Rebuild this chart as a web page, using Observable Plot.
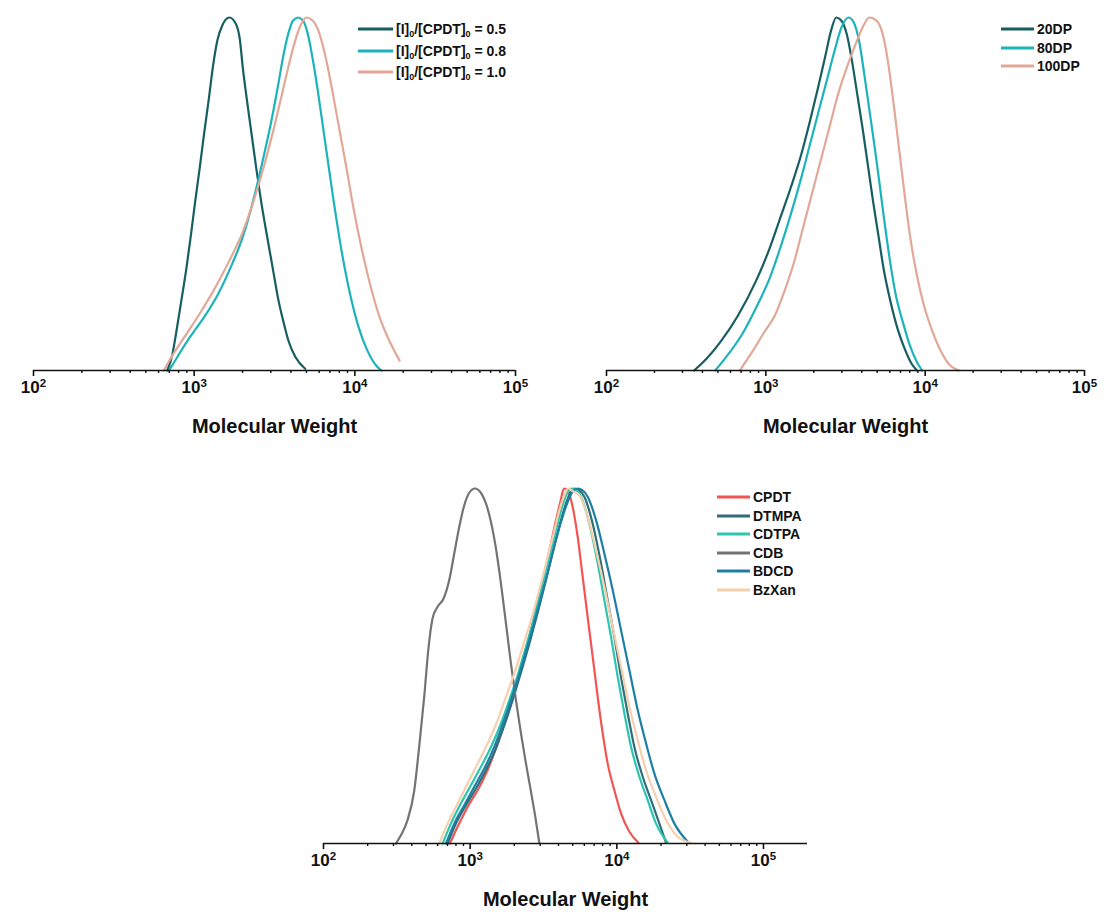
<!DOCTYPE html>
<html>
<head>
<meta charset="utf-8">
<script src="https://cdn.jsdelivr.net/npm/d3@7"></script>
<script src="https://cdn.jsdelivr.net/npm/@observablehq/plot@0.6"></script>
<style>
  body { margin: 0; background: #ffffff; }
  #wrap { position: relative; width: 1105px; height: 916px; overflow: hidden;
          font-family: "Liberation Sans", Arial, sans-serif; font-weight: bold; color: #111; }
  .panel { position: absolute; }
  .legend { position: absolute; font-size: 14px; }
  .legend .row { position: absolute; white-space: nowrap; display: flex; align-items: center; }
  .legend sub { font-size: 9px; vertical-align: -3px; line-height: 0; }
</style>
</head>
<body>
<div id="wrap"></div>
<script>
// ---------- shared axis values ----------
const majorTicks = [100, 1000, 10000, 100000];
const minorMultipliers = [2, 3, 4, 5, 6, 7, 8, 9];
const xLabel = "Molecular Weight";

// ---------- Panel A : [I]0/[CPDT]0 ratio ----------
const ratioNames = ["0.5", "0.8", "1.0"];
const ratioColors = ["#175e62", "#1cb3bb", "#e2a897"];
const ratio05 = [[680,0],[733,0.047],[771,0.104],[832,0.198],[897,0.293],[957,0.388],[1017,0.482],[1085,0.577],[1153,0.671],[1231,0.766],[1308,0.860],[1396,0.936],[1498,0.978],[1656,1.0],[1813,0.983],[1927,0.936],[2005,0.860],[2130,0.766],[2275,0.671],[2428,0.577],[2605,0.482],[2823,0.388],[3075,0.293],[3350,0.198],[3576,0.142],[3857,0.085],[4265,0.038],[4910,0.005]];
const ratio08 = [[697,0],[752,0.024],[832,0.057],[943,0.095],[1153,0.151],[1410,0.217],[1724,0.302],[2005,0.378],[2332,0.482],[2645,0.586],[2999,0.699],[3316,0.803],[3576,0.888],[3857,0.955],[4117,0.991],[4440,1.0],[4764,0.991],[5086,0.955],[5484,0.879],[5915,0.785],[6377,0.681],[6879,0.577],[7418,0.473],[7998,0.378],[8625,0.293],[9537,0.198],[10546,0.123],[11960,0.057],[13570,0.014],[14630,0]];
const ratio10 = [[647,0],[733,0.043],[897,0.104],[1096,0.165],[1341,0.232],[1639,0.307],[2005,0.392],[2332,0.477],[2712,0.577],[3075,0.671],[3487,0.775],[3857,0.860],[4265,0.936],[4599,0.978],[5011,1.0],[5484,0.991],[5915,0.964],[6540,0.893],[7233,0.794],[7998,0.685],[8844,0.577],[9779,0.463],[11090,0.340],[12580,0.236],[14260,0.151],[16180,0.090],[19000,0.028]];

// ---------- Panel B : degree of polymerisation ----------
const dpNames = ["20DP", "80DP", "100DP"];
const dpColors = ["#175e62", "#1cb3bb", "#e2a897"];
const dp20 = [[355,0],[424,0.033],[519,0.081],[669,0.156],[862,0.251],[1056,0.346],[1229,0.431],[1431,0.517],[1666,0.611],[1891,0.706],[2126,0.801],[2376,0.896],[2564,0.962],[2766,1.0],[2984,0.991],[3220,0.953],[3473,0.877],[3749,0.782],[4045,0.687],[4365,0.583],[4710,0.479],[5082,0.384],[5482,0.289],[6067,0.194],[6714,0.118],[7430,0.062],[8222,0.019],[8873,0]];
const dp80 = [[481,0],[574,0.043],[704,0.100],[884,0.185],[1056,0.261],[1229,0.346],[1431,0.441],[1666,0.545],[1891,0.640],[2147,0.735],[2437,0.829],[2697,0.905],[2984,0.972],[3302,1.0],[3563,0.986],[3846,0.934],[4149,0.839],[4476,0.735],[4830,0.630],[5212,0.517],[5623,0.403],[6067,0.299],[6546,0.213],[7244,0.137],[8017,0.071],[8873,0.024],[9574,0]];
const dp100 = [[686,0],[819,0.052],[978,0.109],[1139,0.156],[1326,0.232],[1506,0.308],[1709,0.403],[1940,0.498],[2201,0.592],[2500,0.687],[2837,0.782],[3220,0.858],[3656,0.924],[4045,0.972],[4476,1.0],[4954,0.991],[5482,0.943],[5916,0.858],[6383,0.744],[6887,0.621],[7430,0.498],[8017,0.384],[8873,0.270],[9818,0.185],[11150,0.109],[12650,0.052],[14360,0.014],[16300,0]];

// ---------- Panel C : RAFT agents ----------
const agentNames = ["CPDT", "DTMPA", "CDTPA", "CDB", "BDCD", "BzXan"];
const agentColors = ["#f25454", "#2e6f7a", "#2dc5b0", "#737373", "#1d7fa3", "#f6cfae"];
const agentCPDT = [[728,0],[821,0.047],[961,0.103],[1124,0.150],[1315,0.207],[1539,0.282],[1754,0.357],[2000,0.432],[2280,0.516],[2598,0.601],[2915,0.685],[3236,0.770],[3557,0.845],[3848,0.911],[4119,0.962],[4363,1.0],[4621,0.995],[4999,0.948],[5408,0.864],[5850,0.751],[6326,0.638],[6846,0.526],[7405,0.413],[8009,0.310],[8663,0.225],[9621,0.150],[10680,0.085],[12180,0.033],[14030,0.002]];
const agentDTMPA = [[702,0],[800,0.056],[936,0.108],[1095,0.155],[1281,0.207],[1499,0.268],[1727,0.338],[1979,0.413],[2243,0.488],[2571,0.573],[2915,0.657],[3289,0.742],[3690,0.826],[4097,0.901],[4502,0.958],[4819,0.988],[5132,1.0],[5550,0.995],[6005,0.977],[6846,0.901],[7802,0.789],[8663,0.685],[9621,0.582],[10680,0.469],[11860,0.366],[13170,0.272],[15020,0.188],[17120,0.122],[19510,0.056],[21660,0.002]];
const agentCDTPA = [[649,0],[739,0.056],[865,0.113],[1012,0.164],[1184,0.216],[1386,0.272],[1622,0.338],[1849,0.404],[2107,0.474],[2402,0.554],[2737,0.638],[3072,0.723],[3465,0.808],[3848,0.883],[4205,0.944],[4550,0.984],[4870,1.0],[5270,0.996],[5700,0.977],[6495,0.901],[7405,0.789],[8222,0.685],[9130,0.582],[10140,0.469],[11260,0.366],[12500,0.272],[14250,0.188],[16240,0.122],[18510,0.056],[22240,0.002]];
const agentCDB = [[312,0],[337,0.023],[374,0.066],[416,0.150],[449,0.272],[486,0.413],[518,0.545],[554,0.634],[600,0.667],[659,0.690],[720,0.742],[779,0.817],[843,0.892],[912,0.953],[986,0.988],[1078,1.0],[1184,0.988],[1281,0.958],[1386,0.906],[1499,0.831],[1622,0.732],[1754,0.620],[1897,0.507],[2052,0.404],[2220,0.310],[2402,0.225],[2598,0.146],[2781,0.075],[2961,0.002]];
const agentBDCD = [[684,0],[779,0.056],[912,0.108],[1067,0.160],[1248,0.211],[1460,0.272],[1691,0.343],[1948,0.418],[2220,0.493],[2544,0.577],[2901,0.662],[3289,0.746],[3709,0.831],[4163,0.906],[4621,0.962],[4999,0.991],[5408,1.0],[5850,0.995],[6326,0.977],[7214,0.911],[8222,0.817],[9372,0.714],[10680,0.601],[12180,0.488],[13880,0.376],[15820,0.282],[18030,0.197],[21110,0.122],[24700,0.056],[30440,0.005]];
const agentBzXan = [[615,0],[702,0.056],[821,0.113],[961,0.169],[1124,0.225],[1315,0.282],[1539,0.347],[1754,0.413],[2000,0.479],[2280,0.554],[2598,0.629],[2961,0.714],[3339,0.798],[3709,0.873],[4055,0.939],[4385,0.981],[4670,1.0],[4999,0.993],[5552,0.981],[6326,0.920],[7214,0.826],[8222,0.723],[9372,0.610],[10680,0.498],[12180,0.385],[13880,0.291],[15820,0.207],[18510,0.131],[21660,0.066],[26020,0.019],[32080,0.002]];

// ---------- helpers ----------
const wrap = document.getElementById("wrap");
const NS = "http://www.w3.org/2000/svg";

function tidy(names, arrays) {
  const rows = [];
  names.forEach((n, i) => arrays[i].forEach(([mw, v]) => rows.push({series: n, mw, v})));
  return rows;
}

function minorTicksUpTo(xMax) {
  const out = [];
  for (let e = 2; e <= 5; e++) for (const m of minorMultipliers) {
    const v = m * Math.pow(10, e);
    if (v < xMax) out.push(v);
  }
  return out;
}

function panel(cfg) {
  const rows = tidy(cfg.names, cfg.arrays);
  const chart = Plot.plot({
    width: cfg.width, height: cfg.height,
    marginLeft: cfg.mL, marginRight: cfg.mR, marginTop: cfg.mT, marginBottom: cfg.mB,
    x: {type: "log", domain: [100, cfg.xMax]},
    y: {domain: [0, 1], axis: null},
    color: {domain: cfg.names, range: cfg.colors},
    style: {fontFamily: '"Liberation Sans", Arial, sans-serif', fontWeight: "bold", background: "transparent", color: "#111", overflow: "visible"},
    marks: [
      Plot.line(rows, {x: "mw", y: "v", z: "series", stroke: "series", strokeWidth: 2.2, curve: "monotone-x"}),
      Plot.ruleY([0], {stroke: "#111", strokeWidth: 1.7}),
      Plot.axisX({ticks: minorTicksUpTo(cfg.xMax), tickSize: 3, tickFormat: () => "", label: null, strokeWidth: 1.4, stroke: "#111"}),
      Plot.axisX({ticks: majorTicks, tickSize: 6, tickPadding: 4, fontSize: 17, strokeWidth: 1.6, stroke: "#111",
        tickFormat: d => "10^" + Math.round(Math.log10(d)),
        label: xLabel, labelAnchor: "center", labelArrow: "none", labelOffset: 62})
    ]
  });
  // superscript exponents, larger tick label font
  chart.querySelectorAll('g[aria-label="x-axis tick label"] text').forEach(t => {
    const s = t.textContent;
    if (!s.includes("^")) return;
    const [b, e] = s.split("^");
    t.textContent = "";
    t.setAttribute("font-size", "17px");
    t.style.fontSize = "17px";
    const t1 = document.createElementNS(NS, "tspan"); t1.textContent = b;
    const t2 = document.createElementNS(NS, "tspan"); t2.textContent = e;
    t2.setAttribute("dy", "-0.5em"); t2.style.fontSize = "11.5px";
    t.appendChild(t1); t.appendChild(t2);
  });
  chart.querySelectorAll('g[aria-label="x-axis label"] text').forEach(t => {
    t.setAttribute("font-size", "20px");
    t.style.fontSize = "20px";
  });
  const div = document.createElement("div");
  div.className = "panel";
  div.style.left = cfg.left + "px"; div.style.top = cfg.top + "px";
  div.appendChild(chart);
  wrap.appendChild(div);

  // legend
  const lg = document.createElement("div");
  lg.className = "legend";
  lg.style.left = cfg.legend.left + "px"; lg.style.top = cfg.legend.top + "px";
  cfg.names.forEach((n, i) => {
    const row = document.createElement("div");
    row.className = "row";
    row.style.top = (i * cfg.legend.step) + "px";
    row.style.height = "18px";
    row.innerHTML = `<svg width="${cfg.legend.sw}" height="18" style="margin-right:3px"><line x1="0" x2="${cfg.legend.sw}" y1="9" y2="9" stroke="${cfg.colors[i]}" stroke-width="2.8"/></svg><span>${cfg.labelFn(n)}</span>`;
    lg.appendChild(row);
  });
  wrap.appendChild(lg);
}

panel({
  left: 0, top: 0, width: 550, height: 445, mL: 33, mR: 35, mT: 17, mB: 75, xMax: 100000,
  names: ratioNames, colors: ratioColors, arrays: [ratio05, ratio08, ratio10],
  labelFn: n => `[I]<sub>0</sub>/[CPDT]<sub>0</sub> = ${n}`,
  legend: {left: 358, top: 20, step: 21.5, sw: 35}
});
panel({
  left: 560, top: 0, width: 545, height: 445, mL: 46, mR: 21, mT: 17, mB: 75, xMax: 100000,
  names: dpNames, colors: dpColors, arrays: [dp20, dp80, dp100],
  labelFn: n => n,
  legend: {left: 1001, top: 20, step: 18.5, sw: 33}
});
panel({
  left: 290, top: 470, width: 540, height: 446, mL: 33, mR: 23, mT: 18, mB: 73, xMax: Math.pow(10, 5.3),
  names: agentNames, colors: agentColors, arrays: [agentCPDT, agentDTMPA, agentCDTPA, agentCDB, agentBDCD, agentBzXan],
  labelFn: n => n,
  legend: {left: 717, top: 488, step: 18.6, sw: 33}
});
</script>
</body>
</html>
